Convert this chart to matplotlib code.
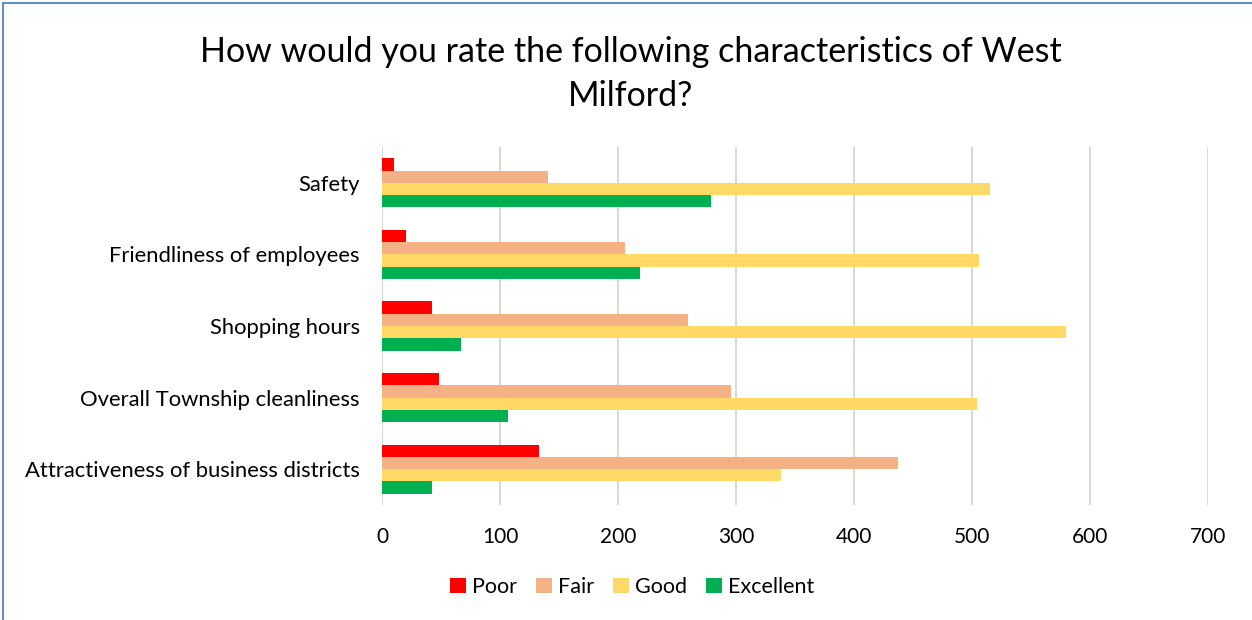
import matplotlib
matplotlib.use("Agg")
import matplotlib.pyplot as plt
import numpy as np
from matplotlib.patches import Rectangle

plt.rcParams['font.family'] = ['Lato', 'DejaVu Sans']

# data
categories = ['Safety', 'Friendliness of employees', 'Shopping hours',
              'Overall Township cleanliness', 'Attractiveness of business districts']
series_names = ['Poor', 'Fair', 'Good', 'Excellent']
poor = [10, 20, 42, 48, 133]
fair = [141, 206, 259, 296, 437]
good = [515, 506, 580, 504, 338]
excellent = [279, 219, 67, 107, 42]
colors = ['#FF0000', '#F4B183', '#FFD966', '#00B050']
x_ticks = [0, 100, 200, 300, 400, 500, 600, 700]

fig = plt.figure(figsize=(12.52, 6.2), dpi=100)
ax = fig.add_axes([382 / 1252, 1 - 505 / 620, 826 / 1252, 358 / 620])

y = np.arange(len(categories))
h = 0.685 / 4
for k, (vals, name, c) in enumerate(zip([poor, fair, good, excellent], series_names, colors)):
    ax.barh(y + (k - 1.5) * h, vals, height=h, color=c, label=name, zorder=3)

ax.set_xlim(0, 700)
ax.set_ylim(len(categories) - 0.5, -0.5)
ax.set_xticks(x_ticks)
ax.set_yticks(y)
ax.set_yticklabels(categories)
ax.xaxis.grid(True, color='#D9D9D9', linewidth=1.5, zorder=0)
ax.tick_params(axis='both', length=0, colors='black')
ax.tick_params(axis='x', pad=16, labelsize=15)
ax.tick_params(axis='y', pad=16, labelsize=15.8)
for s in ax.spines.values():
    s.set_visible(False)

fig.text(631 / 1252, 1 - 74 / 620, 'How would you rate the following characteristics of West\nMilford?',
         ha='center', va='center', fontsize=24.5, linespacing=1.45)

fig.legend(loc='center', bbox_to_anchor=(632 / 1252, 1 - 587 / 620), ncol=4, frameon=False,
           fontsize=15.5, handlelength=0.75, handleheight=0.75, handletextpad=0.25, columnspacing=0.9)

# chart border
fig.patches.append(Rectangle((3 / 1252, -0.01), 1.0, 1 - 3 / 620 + 0.01, transform=fig.transFigure,
                             fill=False, edgecolor='#4472C4', linewidth=1.2))

fig.savefig('out.png', dpi=100)
